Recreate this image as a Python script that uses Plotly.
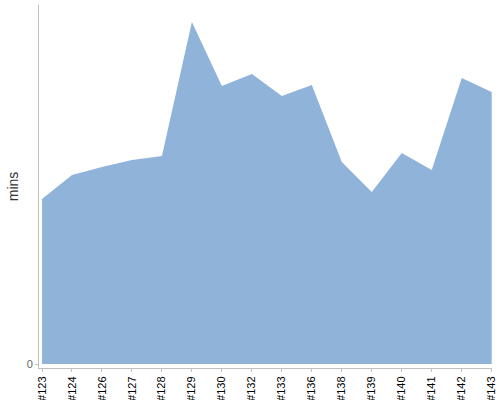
import plotly.graph_objects as go

# 构建编号与耗时（分钟）
builds = ["#123", "#124", "#126", "#127", "#128", "#129", "#130", "#132",
          "#133", "#136", "#138", "#139", "#140", "#141", "#142", "#143"]
mins = [165, 189, 197, 204, 208, 342, 278, 290,
        268, 279, 202, 172, 211, 194, 286, 272]

fig = go.Figure()

fig.add_trace(
    go.Scatter(
        x=builds,
        y=mins,
        mode="lines",
        fill="tozeroy",
        fillcolor="#90b3da",
        line=dict(width=0, color="#90b3da"),
        hoverinfo="x+y",
    )
)

fig.update_layout(
    width=500,
    height=400,
    showlegend=False,
    plot_bgcolor="#ffffff",
    paper_bgcolor="#ffffff",
    margin=dict(l=39, r=8, t=5, b=32),
    font=dict(family="Liberation Sans, Arial", color="#000000"),
)

fig.update_xaxes(
    type="category",
    range=[-0.1, len(builds) - 1 + 0.01],
    automargin=False,
    showgrid=False,
    zeroline=False,
    showline=True,
    linecolor="#c0c0c0",
    linewidth=1,
    ticks="outside",
    ticklen=3,
    tickcolor="#c0c0c0",
    tickangle=-90,
    tickfont=dict(size=11, color="#000000"),
)

fig.update_yaxes(
    range=[-4, 359],
    tickvals=[0],
    ticktext=["0"],
    automargin=False,
    showgrid=False,
    zeroline=False,
    showline=True,
    linecolor="#c0c0c0",
    linewidth=1,
    ticks="outside",
    ticklen=3,
    tickcolor="#c0c0c0",
    tickfont=dict(size=11, color="#666666"),
)

# 纵轴标题
fig.add_annotation(
    text="mins",
    xref="paper", yref="paper",
    x=-0.058, y=0.5,
    xanchor="center", yanchor="middle",
    textangle=-90,
    showarrow=False,
    font=dict(size=14, color="#333333"),
)

# 去掉页面默认边距，让图表贴齐窗口；不显示工具栏
fig.write_html(
    "out.html",
    config={"displayModeBar": False},
    post_script="document.body.style.margin='0';",
)
